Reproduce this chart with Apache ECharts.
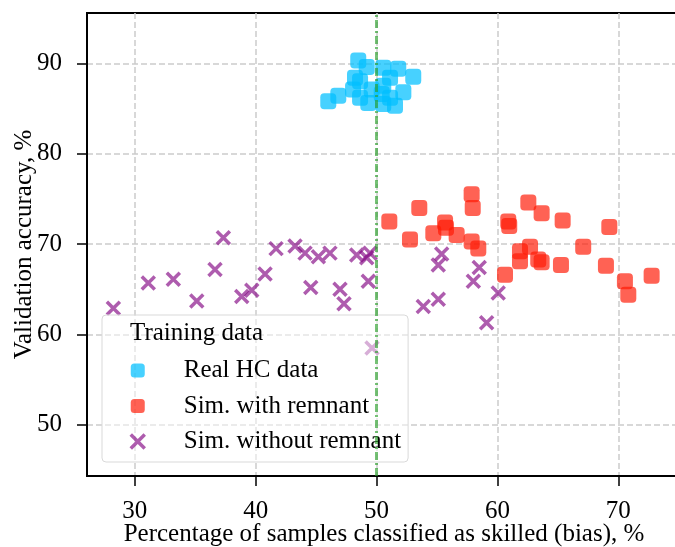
<!DOCTYPE html>
<html><head><meta charset="utf-8">
<script src="https://cdn.jsdelivr.net/npm/echarts@6/dist/echarts.min.js"></script>
<style>html,body{margin:0;padding:0;background:#fff}#c{width:675px;height:547px}</style>
</head><body><div id="c"></div><script>
const xTicks = [30, 40, 50, 60, 70];
const yTicks = [50, 60, 70, 80, 90];
const xName = 'Percentage of samples classified as skilled (bias), %';
const yName = 'Validation accuracy, %';
const legendTitle = 'Training data';
const seriesNames = ['Real HC data', 'Sim. with remnant', 'Sim. without remnant'];
const biasLine = 50;

const realHC = [
  [46.01,85.8],[46.84,86.4],[48.49,90.3],[49.19,89.6],[48.22,88.4],[48.64,88.0],
  [48.64,86.2],[49.32,85.6],[50.56,85.5],[51.53,85.3],[51.12,86.2],[52.22,86.8],
  [53.04,88.5],[51.80,89.4],[50.56,89.5],[51.12,88.4],[50.56,87.5],[49.60,87.1],
  [50.43,86.6],[48.06,87.1]
];
const simWith = [
  [51.06,72.5],[53.54,74.0],[52.77,70.5],[54.70,71.2],[55.67,72.4],[55.75,71.8],
  [56.63,71.0],[57.87,75.5],[57.96,74.0],[57.87,70.3],[58.42,69.5],[60.90,72.5],
  [60.98,72.0],[60.63,66.6],[62.56,74.6],[63.66,73.4],[65.40,72.6],[69.26,71.9],
  [62.70,69.7],[61.87,69.2],[61.87,68.1],[63.38,68.3],[63.66,68.0],[67.10,69.7],
  [65.26,67.7],[68.98,67.6],[70.55,65.9],[70.83,64.4],[72.76,66.5]
];
const simWithout = [
  [28.23,62.9],[31.12,65.7],[33.19,66.1],[35.13,63.7],[36.64,67.2],[37.33,70.7],
  [38.85,64.2],[39.68,64.9],[40.78,66.7],[41.69,69.5],[43.26,69.8],[44.09,69.0],
  [45.19,68.6],[46.15,69.0],[44.56,65.2],[46.98,65.0],[47.31,63.4],[48.36,68.8],
  [49.19,68.5],[49.46,69.0],[49.32,65.9],[49.63,58.5],[55.39,68.9],[55.11,67.7],
  [55.11,63.9],[53.87,63.1],[58.50,67.4],[58.01,65.9],[60.07,64.6],[59.11,61.3]
];

const FONT = 'Liberation Serif';
const CYAN = 'rgba(0,191,255,0.9)';
const RED = 'rgba(255,25,5,0.85)';
const PURPLE = 'rgba(128,0,128,0.8)';
const chart = echarts.init(document.getElementById('c'), null, {renderer: 'canvas'});
const gridLine = {show: true, lineStyle: {color: '#cccccc', width: 1.5, type: [6, 3]}};
const tick = (vals) => ({show: true, inside: false, length: 10, customValues: vals, lineStyle: {color: '#000', width: 1.5}});
const lbl = (vals, m) => ({show: true, customValues: vals, margin: m, fontFamily: FONT, fontSize: 25, color: '#000'});

chart.setOption({
  animation: false,
  grid: {left: 87, right: -6, top: 13, bottom: 71, outerBoundsMode: 'none', containLabel: false,
         show: true, borderColor: '#000', borderWidth: 2, backgroundColor: 'transparent'},
  xAxis: {
    type: 'value', min: 26.05, max: 75.19,
    axisLine: {show: true, lineStyle: {color: '#000', width: 2}},
    axisTick: tick(xTicks), axisLabel: lbl(xTicks, 23), splitLine: gridLine,
    name: xName, nameLocation: 'middle', nameGap: 46, nameMoveOverlap: false,
    nameTextStyle: {fontFamily: FONT, fontSize: 25, color: '#000'}
  },
  yAxis: {
    type: 'value', min: 44.35, max: 95.56,
    axisLine: {show: true, lineStyle: {color: '#000', width: 2}},
    axisTick: tick(yTicks), axisLabel: lbl(yTicks, 25), splitLine: gridLine,
    name: yName, nameLocation: 'middle', nameGap: 50, nameRotate: 90, nameMoveOverlap: false,
    nameTextStyle: {fontFamily: FONT, fontSize: 25, color: '#000'}
  },
  legend: {
    data: [
      {name: seriesNames[0]},
      {name: seriesNames[1]},
      {name: seriesNames[2], itemStyle: {color: PURPLE, borderColor: PURPLE, borderWidth: 3.5}}
    ],
    orient: 'vertical', left: 102, top: 315,
    padding: [43, 7, 8, 27], itemWidth: 14, itemHeight: 14, itemGap: 10.5,
    backgroundColor: 'rgba(255,255,255,0.5)', borderColor: '#d9d9d9', borderWidth: 1, borderRadius: 4,
    selectedMode: false,
    formatter: n => '{s|}{t|' + n + '}',
    textStyle: {fontFamily: FONT, fontSize: 25, color: '#000',
      rich: {s: {width: 34}, t: {fontFamily: FONT, fontSize: 25, color: '#000'}}}
  },
  graphic: [{type: 'text', left: 130, top: 321, z: 100,
    style: {text: legendTitle, font: '25px "Liberation Serif"', fill: '#000'}}],
  series: [
    {name: seriesNames[0], type: 'scatter', data: realHC, symbol: 'roundRect', symbolSize: 16,
     itemStyle: {color: CYAN}, z: 2},
    {name: seriesNames[1], type: 'scatter', data: simWith, symbol: 'roundRect', symbolSize: 16,
     itemStyle: {color: RED}, z: 2},
    {name: seriesNames[2], type: 'scatter', data: simWithout, symbol: 'path://M0,0L10,10M10,0L0,10', symbolSize: 13,
     itemStyle: {color: PURPLE, borderColor: PURPLE, borderWidth: 3.5}, z: 2},
    {name: 'bias', type: 'scatter', data: [], z: 3,
     markLine: {silent: true, symbol: 'none', animation: false, label: {show: false},
       lineStyle: {color: 'rgba(44,160,44,0.65)', width: 3, type: [8, 3, 2, 3]},
       data: [{xAxis: biasLine}]}}
  ]
});
</script></body></html>
